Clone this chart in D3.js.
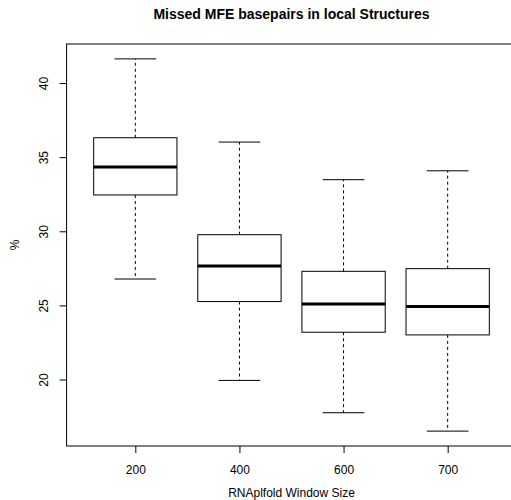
<!DOCTYPE html>
<html>
<head>
<meta charset="utf-8">
<script src="https://cdn.jsdelivr.net/npm/d3@7"></script>
<style>
  body { margin: 0; background: #fff; }
  text { font-family: "Liberation Sans", Arial, sans-serif; fill: #000; }
</style>
</head>
<body>
<svg id="chart" width="511" height="500"></svg>
<script>
// values
var categories = ["200", "400", "600", "700"];
var lowerWhisker = [26.78, 19.94, 17.76, 16.52];
var q1 = [32.45, 25.26, 23.19, 23.01];
var median = [34.33, 27.66, 25.10, 24.92];
var q3 = [36.31, 29.77, 27.30, 27.48];
var upperWhisker = [41.63, 36.02, 33.48, 34.08];
var yTicks = [20, 25, 30, 35, 40];

var svg = d3.select("#chart");
var plotLeft = 66.6, plotRight = 516.4, plotTop = 44, plotBottom = 446;

// R style: positions 1..n, padded by 4%
var n = categories.length;
var pad = n * 0.04;
var x = d3.scaleLinear()
    .domain([0.5 - pad, n + 0.5 + pad])
    .range([plotLeft, plotRight]);
var lo = d3.min(lowerWhisker), hi = d3.max(upperWhisker);
var ypad = (hi - lo) * 0.04;
var y = d3.scaleLinear()
    .domain([lo - ypad, hi + ypad])
    .range([plotBottom, plotTop]);

var boxW = 0.8, capW = 0.4;

var g = svg.append("g");

categories.forEach(function(c, i) {
    var cx = x(i + 1);
    var bx0 = x(i + 1 - boxW / 2), bx1 = x(i + 1 + boxW / 2);
    var cx0 = x(i + 1 - capW / 2), cx1 = x(i + 1 + capW / 2);

    // whiskers
    g.append("line")
        .attr("x1", cx).attr("x2", cx)
        .attr("y1", y(q3[i])).attr("y2", y(upperWhisker[i]))
        .attr("stroke", "#000").attr("stroke-width", 1)
        .attr("stroke-dasharray", "3,3");
    g.append("line")
        .attr("x1", cx).attr("x2", cx)
        .attr("y1", y(q1[i])).attr("y2", y(lowerWhisker[i]))
        .attr("stroke", "#000").attr("stroke-width", 1)
        .attr("stroke-dasharray", "3,3");
    // caps
    [upperWhisker[i], lowerWhisker[i]].forEach(function(v) {
        g.append("line")
            .attr("x1", cx0).attr("x2", cx1)
            .attr("y1", y(v)).attr("y2", y(v))
            .attr("stroke", "#000").attr("stroke-width", 1);
    });
    // box
    g.append("rect")
        .attr("x", bx0).attr("y", y(q3[i]))
        .attr("width", bx1 - bx0).attr("height", y(q1[i]) - y(q3[i]))
        .attr("fill", "none").attr("stroke", "#000").attr("stroke-width", 1);
    // median
    g.append("line")
        .attr("x1", bx0).attr("x2", bx1)
        .attr("y1", y(median[i])).attr("y2", y(median[i]))
        .attr("stroke", "#000").attr("stroke-width", 3);
});

// frame (right edge falls outside the picture)
svg.append("rect")
    .attr("x", plotLeft).attr("y", plotTop)
    .attr("width", plotRight - plotLeft).attr("height", plotBottom - plotTop)
    .attr("fill", "none").attr("stroke", "#000").attr("stroke-width", 1);

// x axis
var xAxis = d3.axisBottom(x)
    .tickValues(d3.range(1, n + 1))
    .tickFormat(function(d) { return categories[d - 1]; })
    .tickSize(7).tickPadding(12);
var gx = svg.append("g")
    .attr("transform", "translate(0," + plotBottom + ")")
    .call(xAxis);
gx.select(".domain").remove();
gx.selectAll("text").attr("font-size", 12).attr("font-family", null);

// y axis
var yAxis = d3.axisLeft(y).tickValues(yTicks).tickSize(7).tickPadding(12);
var gy = svg.append("g")
    .attr("transform", "translate(" + plotLeft + ",0)")
    .call(yAxis);
gy.select(".domain").remove();
gy.selectAll(".tick text")
    .attr("font-size", 12).attr("font-family", null)
    .attr("x", null).attr("dy", null)
    .attr("text-anchor", "middle")
    .attr("transform", "translate(-19,0) rotate(-90)");

// titles
svg.append("text")
    .attr("x", (plotLeft + plotRight) / 2).attr("y", 19)
    .attr("text-anchor", "middle")
    .attr("font-size", 14).attr("font-weight", "bold")
    .text("Missed MFE basepairs in local Structures");
svg.append("text")
    .attr("x", (plotLeft + plotRight) / 2).attr("y", 497)
    .attr("text-anchor", "middle")
    .attr("font-size", 12)
    .text("RNAplfold Window Size");
svg.append("text")
    .attr("transform", "translate(19," + ((plotTop + plotBottom) / 2) + ") rotate(-90)")
    .attr("text-anchor", "middle")
    .attr("font-size", 12)
    .text("%");
</script>
</body>
</html>
